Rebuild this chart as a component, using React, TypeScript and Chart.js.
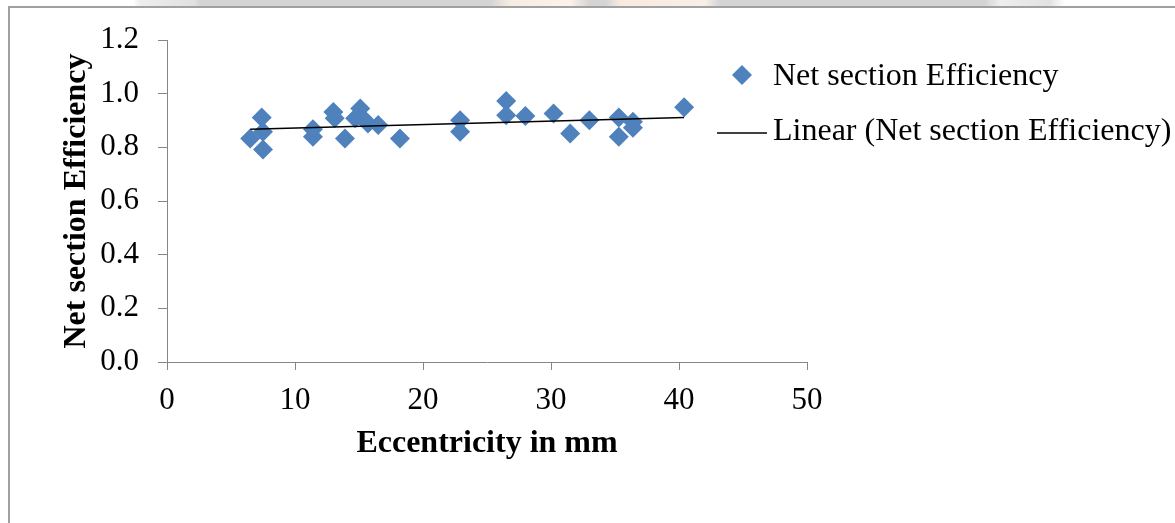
import React, { useEffect, useRef } from "react";
import { Chart, registerables } from "chart.js";

Chart.register(...registerables);

// Data
const eccentricity: number[] = [
  6.5, 7.4, 7.5, 7.5, 11.4, 11.4, 13.0, 13.1, 13.9, 14.7, 15.1, 15.3, 15.7, 16.5, 18.2,
  22.9, 22.9, 26.5, 26.5, 28.0, 30.2, 31.5, 33.0, 35.3, 35.3, 36.4, 36.4, 40.4,
];
const efficiency: number[] = [
  0.833, 0.911, 0.858, 0.792, 0.867, 0.839, 0.932, 0.908, 0.833, 0.908, 0.945, 0.908, 0.889, 0.883, 0.833,
  0.901, 0.858, 0.973, 0.92, 0.917, 0.926, 0.852, 0.901, 0.911, 0.839, 0.895, 0.873, 0.949,
];
const trendX: number[] = [6.5, 40.4];
const trendY: number[] = [0.867, 0.911];

const seriesLabel = "Net section Efficiency";
const trendLabel = "Linear (Net section Efficiency)";
const xTitle = "Eccentricity in mm";
const yTitle = "Net section Efficiency";

const FONT = "'Liberation Serif', 'Times New Roman', serif";
const BLUE = "#4F81BD";
const AXIS = "#868686";

const legendPlugin = {
  id: "customLegend",
  afterDraw(chart: any) {
    const ctx = chart.ctx as CanvasRenderingContext2D;
    ctx.save();
    // diamond marker
    const cx = 742, cy = 75, r = 10;
    ctx.fillStyle = BLUE;
    ctx.beginPath();
    ctx.moveTo(cx, cy - r);
    ctx.lineTo(cx + r, cy);
    ctx.lineTo(cx, cy + r);
    ctx.lineTo(cx - r, cy);
    ctx.closePath();
    ctx.fill();
    ctx.fillStyle = "#000";
    ctx.font = `32px ${FONT}`;
    ctx.textBaseline = "middle";
    ctx.textAlign = "left";
    ctx.fillText(seriesLabel, 773, 77);
    // line sample
    ctx.strokeStyle = "#000";
    ctx.lineWidth = 1.5;
    ctx.beginPath();
    ctx.moveTo(717, 133);
    ctx.lineTo(767, 133);
    ctx.stroke();
    ctx.fillText(trendLabel, 773, 132);
    ctx.restore();
  },
};

export default function App() {
  const ref = useRef<HTMLCanvasElement | null>(null);

  useEffect(() => {
    if (!ref.current) return;
    const points = eccentricity.map((x, i) => ({ x, y: efficiency[i] }));
    const trend = trendX.map((x, i) => ({ x, y: trendY[i] }));
    const chart = new Chart(ref.current, {
      type: "scatter",
      data: {
        datasets: [
          {
            type: "line",
            label: trendLabel,
            data: trend,
            borderColor: "#000",
            borderWidth: 1.5,
            pointRadius: 0,
            showLine: true,
            fill: false,
            order: 0,
          } as any,
          {
            label: seriesLabel,
            data: points,
            pointStyle: "rectRot",
            pointRadius: 10,
            backgroundColor: BLUE,
            borderColor: BLUE,
            borderWidth: 0,
            order: 1,
          },
        ],
      },
      plugins: [legendPlugin],
      options: {
        animation: false,
        responsive: false,
        devicePixelRatio: 1,
        layout: { padding: { left: 0, top: 40, right: 368, bottom: 0 } },
        plugins: { legend: { display: false }, tooltip: { enabled: false } },
        scales: {
          x: {
            type: "linear",
            min: 0,
            max: 50,
            ticks: { stepSize: 10, color: "#000", font: { family: FONT, size: 31 }, padding: 12 },
            grid: { drawOnChartArea: false, drawTicks: true, tickLength: 8, color: AXIS },
            border: { color: AXIS, width: 1 },
            title: {
              display: true,
              text: xTitle,
              color: "#000",
              font: { family: FONT, size: 32, weight: "bold" },
              padding: { top: 0, bottom: 60 },
            },
            afterFit: (scale: any) => {
              scale.height = 161;
            },
          },
          y: {
            type: "linear",
            min: 0,
            max: 1.2,
            ticks: {
              stepSize: 0.2,
              color: "#000",
              font: { family: FONT, size: 31 },
              padding: 19,
              callback: (v: any) => Number(v).toFixed(1),
            },
            grid: { drawOnChartArea: false, drawTicks: true, tickLength: 9, color: AXIS },
            border: { color: AXIS, width: 1 },
            title: {
              display: true,
              text: yTitle,
              color: "#000",
              font: { family: FONT, size: 32, weight: "bold" },
              padding: { top: 58, bottom: 0 },
            },
            afterFit: (scale: any) => {
              scale.width = 167;
            },
          },
        },
      },
    });
    return () => chart.destroy();
  }, []);

  return (
    <div style={{ position: "absolute", left: 0, top: 0, width: 1175, height: 523, background: "#fff", overflow: "hidden" }}>
      <div
        style={{
          position: "absolute",
          left: 0,
          top: 0,
          width: 1175,
          height: 6,
          background:
            "linear-gradient(to right, #fff 0px, #fff 133px, #eeeeee 140px, #e0e0e0 195px, #d4d4d4 200px, #d4d4d4 490px, #f6ece4 510px, #fbf3ea 570px, #d4d4d4 590px, #d4d4d4 605px, #f8eadf 620px, #f7efe8 705px, #d4d4d4 720px, #d4d4d4 985px, #eeeeee 1000px, #e2e2e2 1050px, #fff 1065px, #fff 1175px)",
        }}
      />
      <div
        style={{
          position: "absolute",
          left: 8,
          top: 6,
          width: 1167,
          height: 517,
          borderTop: "2px solid #a0a0a0",
          borderLeft: "2px solid #a0a0a0",
          boxSizing: "border-box",
        }}
      />
      <canvas ref={ref} width={1175} height={523} style={{ position: "absolute", left: 0, top: 0, width: 1175, height: 523 }} />
    </div>
  );
}
